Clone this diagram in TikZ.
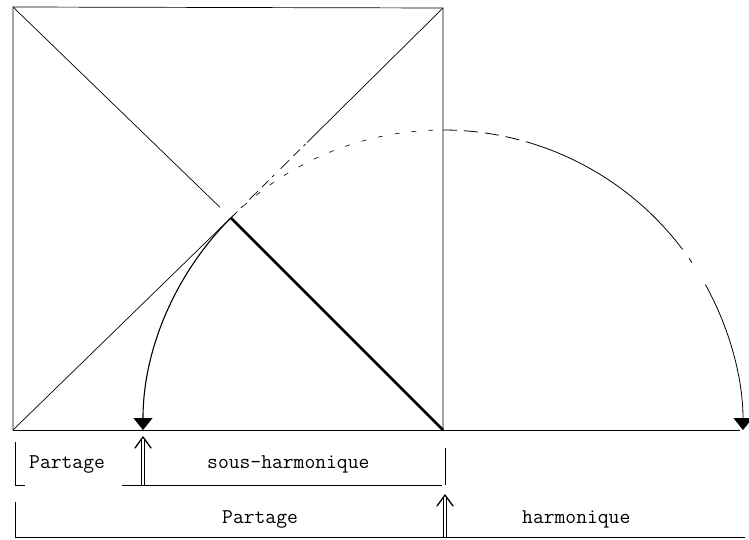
\documentclass[tikz,border=0pt]{standalone}
\usetikzlibrary{arrows.meta,calc}
\begin{document}
\begin{tikzpicture}[x=1pt,y=1pt,
  thinline/.style={line width=0.7pt},
  thickline/.style={line width=2.6pt},
  arcline/.style={line width=0.8pt},
  tip/.style={-{Triangle[width=19pt,length=12pt]}},
  dblshaft/.style={double, double distance=2.2pt, line width=0.6pt, shorten >=2pt},
  chev/.style={line width=1.3pt, line cap=round, line join=round},
  lbl/.style={font=\ttfamily\fontsize{21}{23}\selectfont, inner sep=0pt, anchor=base west}]
\useasboundingbox (0,0) rectangle (749,539);
% corners
\coordinate (BL) at (13,109);
\coordinate (TL) at (13,532);
\coordinate (TR) at (443,531);
\coordinate (BR) at (443,109);
\coordinate (C) at ($(BR)+(135:300)$);
\coordinate (E) at (740,109);
% square
\draw[thinline] (BL) -- (TL) -- (TR) -- (BR);
\draw[line width=0.9pt] (BL) -- (E);
% diagonals
\draw[thinline] (TL) -- ($(TL)!0.95!(C)$);
\draw[thickline] (C) -- (BR);
\draw[thinline] (BL) -- (C);
\draw[thinline, dash pattern=on 9pt off 5pt on 3pt off 9pt on 12pt off 6pt] (C) -- ($(C)!0.36!(TR)$);
\draw[thinline] ($(C)!0.36!(TR)$) -- (TR);
% small arc
\draw[line width=1.1pt, tip] (C) arc[start angle=135, end angle=180, radius=300];
% big arc
\draw[arcline, dash pattern=on 5pt off 12pt, line width=0.6pt] (C) arc[start angle=135, end angle=90, radius=300];
\draw[arcline, dash pattern=on 14pt off 7pt] (BR) ++(90:300) arc[start angle=90, end angle=72, radius=300];
\draw[arcline] (BR) ++(72:300) arc[start angle=72, end angle=37, radius=300];
\draw[arcline, dash pattern=on 0pt off 11pt on 5pt off 20pt] (BR) ++(37:300) arc[start angle=37, end angle=29, radius=300];
\draw[arcline, tip] (BR) ++(29:300) arc[start angle=29, end angle=0, radius=300];
% row 1 brackets
\coordinate (L1t) at (15,97);
\coordinate (L1b) at (15,54);
\coordinate (F1) at (25,54);
\coordinate (M1) at (122,54);
\coordinate (R1b) at (442,54);
\coordinate (R1t) at (445,91);
\coordinate (R1c) at (445,54);
\draw[thinline] (L1t) -- (L1b) -- (F1);
\draw[thinline] (M1) -- (R1b);
\draw[thinline] (R1t) -- (R1c);
\coordinate (A1b) at (143,54);
\coordinate (A1t) at (143,102);
\draw[dblshaft] (A1b) -- (A1t);
\draw[chev] ($(A1t)+(-8,-11)$) -- (A1t) -- ($(A1t)+(8,-11)$);
\node[lbl] (p1) at (29,71) {Partage};
\node[lbl] (sh) at (207,71) {sous-harmonique};
% row 2 brackets
\coordinate (L2t) at (15,37);
\coordinate (L2b) at (15,2);
\coordinate (R2b) at (745,2);
\draw[thinline] (L2t) -- (L2b) -- (R2b);
\coordinate (A2b) at (445,2);
\coordinate (A2t) at (445,44);
\draw[dblshaft] (A2b) -- (A2t);
\draw[chev] ($(A2t)+(-8,-11)$) -- (A2t) -- ($(A2t)+(8,-11)$);
\node[lbl] (p2) at (222,16) {Partage};
\node[lbl] (h) at (522,16) {harmonique};
\end{tikzpicture}
\end{document}
